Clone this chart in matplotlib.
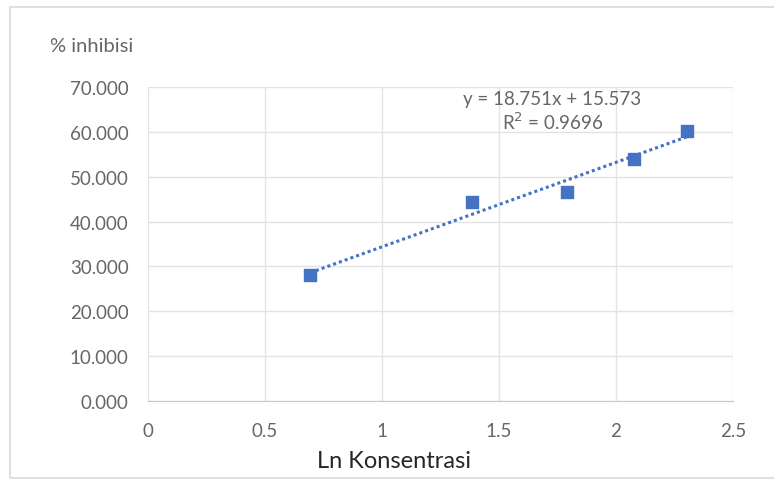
import numpy as np
import matplotlib
matplotlib.use('Agg')
import matplotlib.pyplot as plt
from matplotlib.patches import Rectangle

plt.rcParams['font.family'] = ['Lato', 'DejaVu Sans']

# data
ln_konsentrasi = [0.693, 1.386, 1.792, 2.079, 2.303]
inhibisi = [28.0, 44.4, 46.5, 54.0, 60.2]
x_ticks = [0, 0.5, 1, 1.5, 2, 2.5]
x_tick_labels = ['0', '0.5', '1', '1.5', '2', '2.5']
y_ticks = [0, 10, 20, 30, 40, 50, 60, 70]
y_tick_labels = ['%.3f' % v for v in y_ticks]
persamaan = 'y = 18.751x + 15.573\nR$^2$ = 0.9696'

biru = '#4472C4'
abu = '#666666'

fig = plt.figure(figsize=(7.74, 4.81), dpi=100)
# bingkai chart
fig.patches.append(Rectangle((10/774, 0.005), 1.2, 1 - 8/481 - 0.005, transform=fig.transFigure,
                             fill=False, edgecolor='#d9d9d9', linewidth=1.2))

ax = fig.add_axes([148/774, 1 - 402/481, 585/774, 314/481])
ax.set_xlim(0, 2.5)
ax.set_ylim(0, 70)
ax.set_xticks(x_ticks)
ax.set_xticklabels(x_tick_labels)
ax.set_yticks(y_ticks)
ax.set_yticklabels(y_tick_labels)
ax.grid(True, color='#e3e3e3', linewidth=1)
ax.set_axisbelow(True)
for s in ['top', 'right', 'left']:
    ax.spines[s].set_visible(False)
ax.spines['bottom'].set_color('#c8c8c8')
ax.tick_params(length=0, labelsize=13.5, labelcolor=abu)
ax.tick_params(axis='y', pad=14)
ax.tick_params(axis='x', pad=15)

# trendline
a, b = np.polyfit(ln_konsentrasi, inhibisi, 1)
xs = np.array([min(ln_konsentrasi), max(ln_konsentrasi)])
ax.plot(xs, a * xs + b, linestyle=(0, (1, 1)), color=biru, linewidth=2.2, zorder=2)
ax.scatter(ln_konsentrasi, inhibisi, marker='s', s=75, color=biru, zorder=3)

ax.text(0.691, 0.924, persamaan, transform=ax.transAxes, ha='center', va='center',
        fontsize=13.5, color=abu, linespacing=1.15)

fig.text(50/774, 1 - 47/481, '% inhibisi', fontsize=14.5, color=abu, va='center')
fig.text(394/774, 1 - 462/481, 'Ln Konsentrasi', fontsize=17, color='#262626', ha='center', va='center')

fig.savefig('out.png', dpi=100)
